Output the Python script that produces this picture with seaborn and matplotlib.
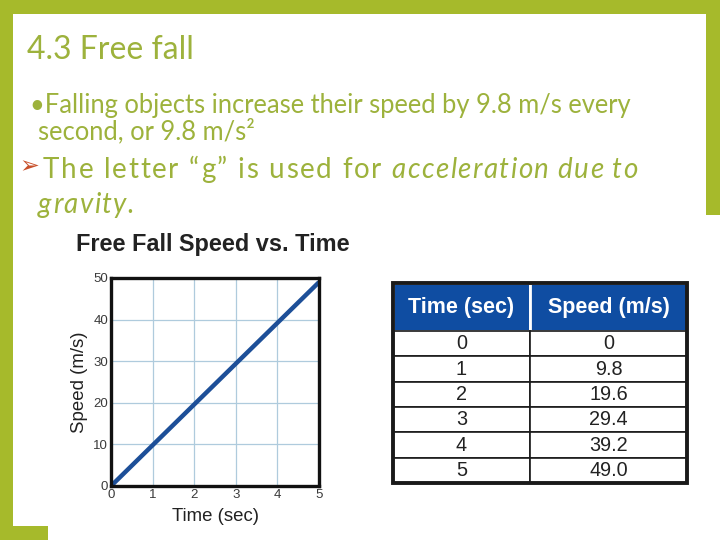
import matplotlib
matplotlib.use("Agg")
import matplotlib.pyplot as plt
from matplotlib.patches import Rectangle
import pandas as pd
import seaborn as sns

# data for the free fall chart and table
time_sec = [0, 1, 2, 3, 4, 5]
speed_ms = [0, 9.8, 19.6, 29.4, 39.2, 49.0]
speed_labels = ["0", "9.8", "19.6", "29.4", "39.2", "49.0"]
table_header = ["Time (sec)", "Speed (m/s)"]
x_ticks = [0, 1, 2, 3, 4, 5]
y_ticks = [0, 10, 20, 30, 40, 50]

W, H = 720, 540
FRAME = "#A6BA2B"
TEXT_GREEN = "#9DB23C"
LINE_BLUE = "#1D4F98"
HEAD_BLUE = "#0F4DA2"

sns.set_theme(style="white")
plt.rcParams["font.family"] = ["Liberation Sans", "DejaVu Sans"]

fig = plt.figure(figsize=(7.2, 5.4), dpi=100)
fig.patch.set_facecolor("white")


def px_rect(x0, y0, x1, y1):
    # pixel box (top-left origin) -> figure fraction [l, b, w, h]
    return [x0 / W, 1 - y1 / H, (x1 - x0) / W, (y1 - y0) / H]


def spaced_text(x, y, s, track, **kw):
    # draw text one char at a time with extra letter spacing (pixels)
    r = fig.canvas.get_renderer()
    tmp = fig.text(0, 0, "a a", **kw)
    tmp2 = fig.text(0, 0, "aa", **kw)
    space_w = tmp.get_window_extent(r).width - tmp2.get_window_extent(r).width
    tmp.remove()
    tmp2.remove()
    for ch in s:
        if ch == " ":
            x += space_w + track
            continue
        t = fig.text(x / W, 1 - y / H, ch, va="center", ha="left", **kw)
        x += t.get_window_extent(renderer=r).width + track
    return x


# green slide frame
for x0, y0, x1, y1 in [(0, 0, 720, 14), (0, 0, 13, 540), (706, 0, 720, 215), (0, 526, 48, 540)]:
    l, b, w, h = px_rect(x0, y0, x1, y1)
    fig.patches.append(Rectangle((l, b), w, h, transform=fig.transFigure,
                                 facecolor=FRAME, edgecolor="none"))

# slide text
slide_font = ["Lato", "DejaVu Sans"]
fig.text(27 / W, 1 - 50 / H, "4.3 Free fall", family=slide_font, fontsize=23,
         color=TEXT_GREEN, va="center", ha="left")
fig.text(30 / W, 1 - 106 / H, "•Falling objects increase their speed by 9.8 m/s every",
         family=slide_font, fontsize=18.4, color=TEXT_GREEN, va="center")
fig.text(38 / W, 1 - 131 / H, "second, or 9.8 m/s²",
         family=slide_font, fontsize=18.4, color=TEXT_GREEN, va="center")
fig.text(19 / W, 1 - 166 / H, "➢", family=["DejaVu Sans"], fontsize=17,
         color="#C8502A", va="center")
xe = spaced_text(43, 170, "The letter “g” is used for ", 1.7,
                 family=slide_font, fontsize=20, color=TEXT_GREEN)
spaced_text(xe, 170, "acceleration due to", 1.4, family=slide_font,
            style="italic", fontsize=20, color=TEXT_GREEN)
spaced_text(38, 205, "gravity.", 1.4, family=slide_font, style="italic",
            fontsize=20, color=TEXT_GREEN)

# chart
ax = fig.add_axes(px_rect(111, 278, 319, 486))
df = pd.DataFrame({"Time (sec)": time_sec, "Speed (m/s)": speed_ms})
sns.lineplot(data=df, x="Time (sec)", y="Speed (m/s)", ax=ax,
             color=LINE_BLUE, linewidth=3.2, solid_capstyle="butt")
ax.set_xlim(0, 5)
ax.set_ylim(0, 50)
ax.set_xticks(x_ticks)
ax.set_yticks(y_ticks)
ax.grid(True, color="#AFCBDD", linewidth=0.9)
ax.set_axisbelow(True)
for s in ax.spines.values():
    s.set_color("#111111")
    s.set_linewidth(2.4)
ax.tick_params(length=0, labelsize=9.5, labelcolor="#3a3a3a", pad=2)
ax.set_xlabel("Time (sec)", fontsize=13.4, color="#222222", labelpad=5)
ax.set_ylabel("Speed (m/s)", fontsize=13.4, color="#222222", labelpad=4)
fig.text(76 / W, 1 - 244 / H, "Free Fall Speed vs. Time", fontsize=16.9,
         weight="bold", color="#222222", va="center", ha="left")

# table
tax = fig.add_axes(px_rect(393, 283, 687, 483))
tax.axis("off")
cells = [[str(t), s] for t, s in zip(time_sec, speed_labels)]
tbl = tax.table(cellText=cells, colLabels=table_header, cellLoc="center",
                bbox=[0, 0, 1, 1])
tbl.auto_set_font_size(False)
for (r, c), cell in tbl.get_celld().items():
    cell.set_edgecolor("#1a1a1a")
    cell.set_linewidth(1.2)
    if r == 0:
        cell.set_height(48)
        cell.set_facecolor(HEAD_BLUE)
        cell.set_edgecolor("white")
        cell.set_linewidth(2)
        cell.get_text().set_color("white")
        cell.get_text().set_fontweight("bold")
        cell.get_text().set_fontsize(15.5)
    else:
        cell.set_height(25.3)
        cell.get_text().set_fontsize(14.3)
        cell.get_text().set_color("#222222")
    cell.set_width(137 if c == 0 else 157)
# outer border
tax.add_patch(Rectangle((0, 0), 1, 1, transform=tax.transAxes, fill=False,
                        edgecolor="#1a1a1a", linewidth=2.8, zorder=5, clip_on=False))

fig.savefig("out.png", dpi=100)
